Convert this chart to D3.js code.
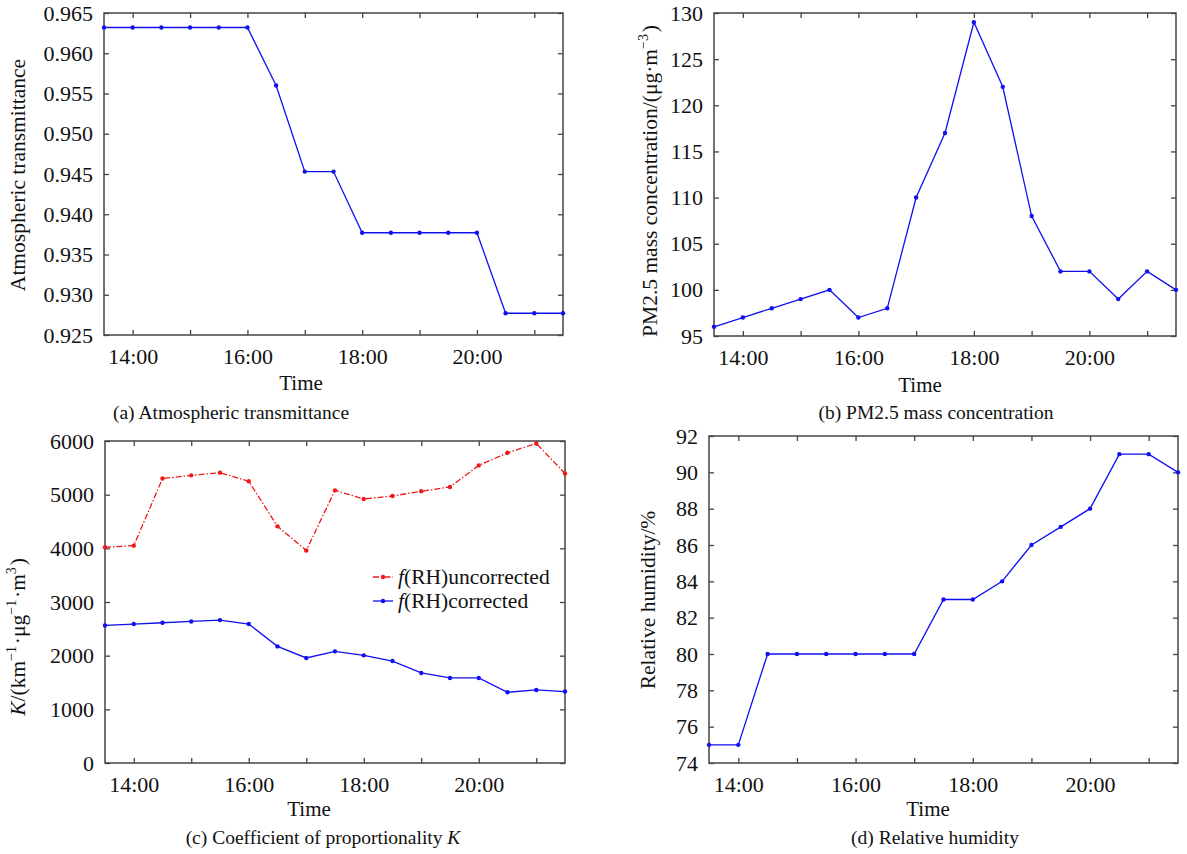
<!DOCTYPE html>
<html lang="en">
<head>
<meta charset="UTF-8" />
<title>Transmittance, PM2.5, K and humidity</title>
<script src="https://d3js.org/d3.v7.min.js"></script>
<style>
  body { margin: 0; background: #fff; }
  svg text { font-family: "Liberation Serif", "Times New Roman", serif !important; fill: #111; }
</style>
</head>
<body>
<svg id="chart" width="1187" height="854"></svg>
<script>
  // half-hourly samples, 13:30 .. 21:30
  const times = ["13:30","14:00","14:30","15:00","15:30","16:00","16:30","17:00","17:30",
                 "18:00","18:30","19:00","19:30","20:00","20:30","21:00","21:30"];
  const transmittance = [0.9632,0.9632,0.9632,0.9632,0.9632,0.9632,0.9560,0.9453,0.9453,
                         0.9377,0.9377,0.9377,0.9377,0.9377,0.9277,0.9277,0.9277];
  const pm25 = [96,97,98,99,100,97,98,110,117,129,122,108,102,102,99,102,100];
  const kUncorrected = [4020,4050,5300,5360,5410,5250,4410,3960,5080,4920,4975,5063,5143,5545,5780,5955,5395];
  const kCorrected = [2563,2589,2613,2638,2663,2589,2173,1957,2080,2006,1900,1678,1585,1585,1318,1361,1331];
  const humidity = [75,75,80,80,80,80,80,80,83,83,84,86,87,88,91,91,90];

  const hourTicks = [14,15,16,17,18,19,20,21];
  const hourLabels = {14: "14:00", 16: "16:00", 18: "18:00", 20: "20:00"};
  const legendLabels = ["uncorrected", "corrected"];

  const hours = times.map(t => { const [h, m] = t.split(":"); return +h + m / 60; });

  const svg = d3.select("#chart");
  const serif = "'Liberation Serif', 'Times New Roman', serif";
  const blue = "#1010f0", red = "#f01818", frame = "#444";

  function txt(sel, size) {
    return sel.style("font-family", serif).style("font-size", size + "px");
  }

  function panel(o) {
    const x = d3.scaleLinear().domain([13.5, 21.5]).range([o.left, o.right]);
    const y = d3.scaleLinear().domain(o.yDomain).range([o.bottom, o.top]);
    const g = svg.append("g");

    // mirrored inward ticks on all four sides
    const ax = [
      [d3.axisBottom(x).tickValues(hourTicks).tickSize(-5).tickPadding(13)
         .tickFormat(h => hourLabels[h] || ""), `translate(0,${o.bottom})`],
      [d3.axisTop(x).tickValues(hourTicks).tickSize(-5).tickFormat(""), `translate(0,${o.top})`],
      [d3.axisLeft(y).tickValues(o.yTicks).tickSize(-5).tickPadding(11)
         .tickFormat(o.yFormat), `translate(${o.left},0)`],
      [d3.axisRight(y).tickValues(o.yTicks).tickSize(-5).tickFormat(""), `translate(${o.right},0)`]
    ];
    ax.forEach(([a, t]) => {
      const s = g.append("g").attr("transform", t).call(a).attr("font-family", null);
      s.select(".domain").remove();
      s.selectAll("line").attr("stroke", frame).attr("stroke-width", 1.3);
      txt(s.selectAll("text"), 22).attr("fill", "#111");
    });
    g.append("rect")
      .attr("x", o.left).attr("y", o.top)
      .attr("width", o.right - o.left).attr("height", o.bottom - o.top)
      .attr("fill", "none").attr("stroke", frame).attr("stroke-width", 1.5);

    txt(g.append("text"), 21).attr("x", o.timeX).attr("y", o.timeY)
      .attr("text-anchor", "middle").attr("dominant-baseline", "central")
      .text("Time");

    txt(g.append("text"), 19.5).attr("x", o.capX).attr("y", o.capY)
      .attr("text-anchor", "middle").attr("dominant-baseline", "central")
      .call(o.caption);

    txt(g.append("text"), 21.5)
      .attr("transform", `translate(${o.labX},${o.labY}) rotate(-90)`)
      .attr("text-anchor", "middle").attr("dominant-baseline", "central")
      .call(o.label);

    return { g, x, y };
  }

  function series(p, values, color, dash) {
    const pts = values.map((v, i) => [p.x(hours[i]), p.y(v)]);
    p.g.append("path")
      .attr("d", d3.line()(pts))
      .attr("fill", "none").attr("stroke", color).attr("stroke-width", 1.3)
      .attr("stroke-dasharray", dash || null);
    p.g.selectAll(null).data(pts).join("circle")
      .attr("cx", d => d[0]).attr("cy", d => d[1]).attr("r", 2.2)
      .attr("fill", color);
  }

  function sup(sel, s) {
    sel.append("tspan").attr("dy", -7).style("font-size", "14px").text(s);
    sel.append("tspan").attr("dy", 7).text("\u200a");
  }

  // (a)
  const pa = panel({
    left: 104, right: 563, top: 13, bottom: 335,
    yDomain: [0.925, 0.965], yTicks: d3.range(0.925, 0.9651, 0.005),
    yFormat: d3.format(".3f"),
    timeX: 301, timeY: 383, capX: 231, capY: 412, labX: 18, labY: 175,
    caption: t => t.text("(a) Atmospheric transmittance"),
    label: t => t.text("Atmospheric transmittance")
  });
  series(pa, transmittance, blue);

  // (b)
  const pb = panel({
    left: 714, right: 1176, top: 13, bottom: 336,
    yDomain: [95, 130], yTicks: d3.range(95, 131, 5), yFormat: d3.format("d"),
    timeX: 920, timeY: 385, capX: 936, capY: 412, labX: 650, labY: 181,
    caption: t => t.text("(b) PM2.5 mass concentration"),
    label: t => {
      t.append("tspan").text("PM2.5 mass concentration/(\u03bcg\u00b7m");
      sup(t, "\u22123");
      t.append("tspan").text(")");
    }
  });
  series(pb, pm25, blue);

  // (c)
  const pc = panel({
    left: 105, right: 565, top: 441, bottom: 763,
    yDomain: [0, 6000], yTicks: d3.range(0, 6001, 1000), yFormat: d3.format("d"),
    timeX: 309, timeY: 809, capX: 323, capY: 837, labX: 18, labY: 637,
    caption: t => {
      t.append("tspan").text("(c) Coefficient of proportionality ");
      t.append("tspan").style("font-style", "italic").text("K");
    },
    label: t => {
      t.append("tspan").style("font-style", "italic").text("K");
      t.append("tspan").text("/(km");
      sup(t, "\u22121");
      t.append("tspan").text("\u00b7\u03bcg");
      sup(t, "\u22121");
      t.append("tspan").text("\u00b7m");
      sup(t, "3");
      t.append("tspan").text(")");
    }
  });
  series(pc, kUncorrected, red, "6,2,1.5,2");
  series(pc, kCorrected, blue);

  // legend of (c)
  const leg = pc.g.append("g");
  [[red, "6,2,1.5,2", 577], [blue, null, 601]].forEach(([c, dash, yy], i) => {
    leg.append("line").attr("x1", 373).attr("x2", 393).attr("y1", yy).attr("y2", yy)
      .attr("stroke", c).attr("stroke-width", 1.3).attr("stroke-dasharray", dash);
    leg.append("circle").attr("cx", 383).attr("cy", yy).attr("r", 2.2).attr("fill", c);
    const t = txt(leg.append("text"), 21.5).attr("x", 398).attr("y", yy)
      .attr("dominant-baseline", "central");
    t.append("tspan").style("font-style", "italic").text("f");
    t.append("tspan").text("(RH)" + legendLabels[i]);
  });

  // (d)
  const pd = panel({
    left: 709, right: 1178, top: 436, bottom: 763,
    yDomain: [74, 92], yTicks: d3.range(74, 93, 2), yFormat: d3.format("d"),
    timeX: 928, timeY: 809, capX: 935, capY: 837, labX: 648, labY: 600,
    caption: t => t.text("(d) Relative humidity"),
    label: t => t.text("Relative humidity/%")
  });
  series(pd, humidity, blue);
</script>
</body>
</html>
